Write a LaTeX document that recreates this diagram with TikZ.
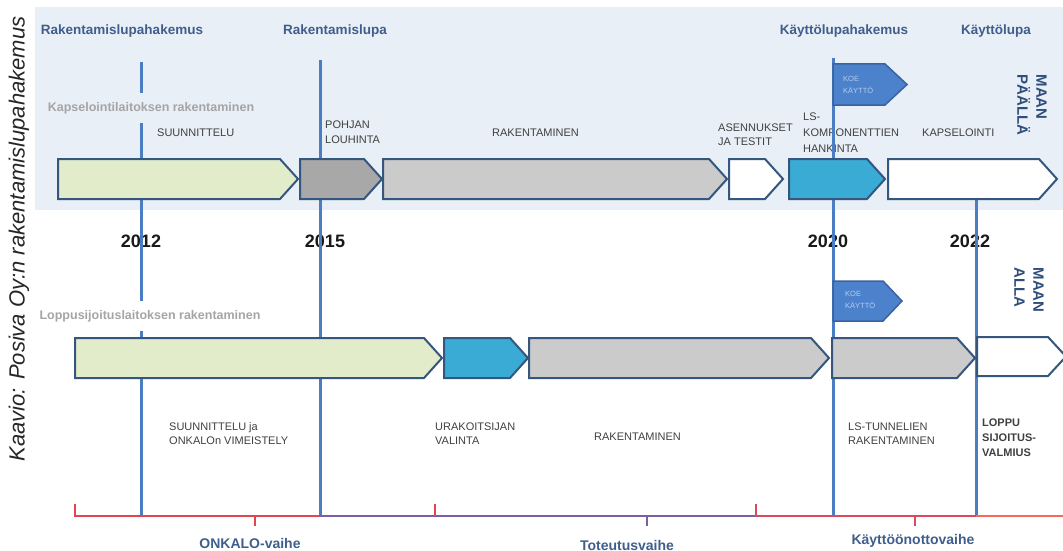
\documentclass[tikz,border=0pt]{standalone}
\usepackage{fontspec}
\setmainfont{Liberation Sans}
\definecolor{band}{HTML}{E8EFF7}
\definecolor{vblue}{HTML}{4A7DC2}
\definecolor{arrowline}{HTML}{34567F}
\definecolor{pgreen}{HTML}{E2ECCB}
\definecolor{pdgray}{HTML}{A8A8A8}
\definecolor{plgray}{HTML}{CBCBCB}
\definecolor{pteal}{HTML}{3AABD4}
\definecolor{flagfill}{HTML}{4C82CC}
\definecolor{flagline}{HTML}{3A62A0}
\definecolor{flagtext}{HTML}{B4CCEE}
\definecolor{lblblue}{HTML}{3F5E8C}
\definecolor{secgray}{HTML}{A5A5A5}
\definecolor{itemgray}{HTML}{404040}
\definecolor{maanblue}{HTML}{2F4F7A}
\definecolor{onkred}{HTML}{E5434F}
\definecolor{totpurple}{HTML}{7B5FA5}
\definecolor{kayred}{HTML}{D94A5C}
\definecolor{salmon}{HTML}{F26B5B}
\newcommand{\phasearrow}[6]{%
  \draw[phase, fill=#6] (#2,#4) -- ({#3-18},#4) -- (#3,{(#4+#5)/2}) -- ({#3-18},#5) -- (#2,#5) -- cycle;
  \node[inner sep=0, minimum width={#3-#2}, minimum height={#5-#4}] (#1) at ({(#2+#3)/2},{(#4+#5)/2}) {};
}
\begin{document}
\begin{tikzpicture}[x=1pt,y=-1pt,
  phase/.style={draw=arrowline, line width=2pt, line join=miter},
  vline/.style={draw=vblue, line width=3pt},
  flagst/.style={draw=flagline, line width=1.5pt, fill=flagfill},
  toplbl/.style={text=lblblue, font=\bfseries\fontsize{13.5}{15}\selectfont, inner sep=0},
  seclbl/.style={text=secgray, font=\bfseries\fontsize{12.5}{14}\selectfont, inner xsep=1pt, inner ysep=9pt},
  item/.style={text=itemgray, font=\fontsize{11}{15}\selectfont, align=left, anchor=west, inner sep=0},
  yearlbl/.style={text=black!90, font=\bfseries\fontsize{18}{20}\selectfont, inner sep=0},
  maan/.style={text=maanblue, font=\bfseries\fontsize{15}{19}\selectfont, align=left, rotate=-90, inner sep=0},
  flagtxt/.style={text=flagtext, font=\fontsize{7.5}{12}\selectfont, align=left, anchor=west, inner sep=0},
  phaselbl/.style={text=lblblue, font=\bfseries\fontsize{14}{16}\selectfont, inner sep=0},
  brk/.style={line width=2pt}
]
\useasboundingbox (0,0) rectangle (1063,551);
\fill[band] (35,7) rectangle (1063,210);

% caption
\node[rotate=90, font=\itshape\fontsize{22}{24}\selectfont, text=black!85, inner sep=0] (caption) at (19,239) {Kaavio: Posiva Oy:n rakentamislupahakemus};

% top labels
\node[toplbl] (l1) at (122,31) {Rakentamislupahakemus};
\node[toplbl] (l2) at (335,31) {Rakentamislupa};
\node[toplbl] (l3) at (844,31) {Käyttölupahakemus};
\node[toplbl] (l4) at (996,31) {Käyttölupa};

% item texts (top)
\node[item] (t1) at (157,133) {SUUNNITTELU};
\node[item] (t2) at (325,132.5) {POHJAN\\LOUHINTA};
\node[item] (t3) at (492,133) {RAKENTAMINEN};
\node[item, font=\fontsize{11}{14}\selectfont] (t4) at (718,135) {ASENNUKSET\\JA TESTIT};
\node[item, font=\fontsize{11}{16}\selectfont] (t5) at (803,133) {LS-\\KOMPONENTTIEN\\HANKINTA};
\node[item] (t6) at (922,133) {KAPSELOINTI};

% item texts (bottom)
\node[item, font=\fontsize{11}{14}\selectfont] (b1) at (169,434) {SUUNNITTELU ja\\ONKALOn VIMEISTELY};
\node[item, font=\fontsize{11}{14}\selectfont] (b2) at (435,434) {URAKOITSIJAN\\VALINTA};
\node[item] (b3) at (594,437) {RAKENTAMINEN};
\node[item, font=\fontsize{11}{14}\selectfont] (b4) at (848,434) {LS-TUNNELIEN\\RAKENTAMINEN};
\node[item, font=\bfseries\fontsize{11}{15}\selectfont] (b5) at (982,438) {LOPPU\\SIJOITUS-\\VALMIUS};

% years (under the lines)
\node[yearlbl] (y1) at (141,241) {2012};
\node[yearlbl] (y2) at (325,241) {2015};
\node[yearlbl] (y3) at (828,241) {2020};
\node[yearlbl] (y4) at (970,241) {2022};

% vertical milestone lines
\coordinate (v1t) at (141,62);  \coordinate (v1b) at (141,516);
\coordinate (v2t) at (320,60);  \coordinate (v2b) at (320,516);
\coordinate (v3t) at (833,58);  \coordinate (v3b) at (833,516);
\coordinate (v4t) at (976,175); \coordinate (v4b) at (976,516);
\draw[vline] (v1t) -- (v1b);
\draw[vline] (v2t) -- (v2b);
\draw[vline] (v3t) -- (v3b);
\draw[vline] (v4t) -- (v4b);

% section labels (cut the line)
\node[seclbl, fill=band] (sec1) at (151,108) {Kapselointilaitoksen rakentaminen};
\node[seclbl, fill=white] (sec2) at (150,316) {Loppusijoituslaitoksen rakentaminen};

% top row
\phasearrow{a1}{58}{298}{159}{199}{pgreen}
\phasearrow{a2}{300}{382}{159}{199}{pdgray}
\phasearrow{a3}{383}{727}{159}{199}{plgray}
\phasearrow{a4}{729}{783}{159}{199}{white}
\phasearrow{a5}{789}{885}{159}{199}{pteal}
\phasearrow{a6}{888}{1057}{159}{199}{white}

% bottom row
\phasearrow{c1}{75}{442}{338}{378}{pgreen}
\phasearrow{c2}{444}{528}{338}{378}{pteal}
\phasearrow{c3}{529}{829}{338}{378}{plgray}
\phasearrow{c4}{832}{975}{338}{378}{plgray}
\phasearrow{c5}{977}{1066}{337}{376}{white}

% flags
\draw[flagst] (v3t |- 0,64) -- (885,64) -- (907,84.5) -- (885,105) -- (v3t |- 0,105) -- cycle;
\node[flagtxt] (f1) at (843,85) {KOE\\KÄYTTÖ};
\draw[flagst] (v3t |- 0,281) -- (883,281) -- (902,301) -- (883,321) -- (v3t |- 0,321) -- cycle;
\node[flagtxt] (f2) at (845,300) {KOE\\KÄYTTÖ};

% maan labels
\node[maan] (m1) at (1032,105) {MAAN\\PÄÄLLÄ};
\node[maan] (m2) at (1029,290) {MAAN\\ALLA};

% phase brackets
\coordinate (p0) at (75,516);   \coordinate (p0u) at (75,504);
\coordinate (p1) at (320,516);
\coordinate (p2) at (435,516);  \coordinate (p2u) at (435,504);
\coordinate (p3) at (756,516);  \coordinate (p3u) at (756,504);
\coordinate (p4) at (976,516);
\coordinate (p5) at (1063,516);
\draw[brk, onkred] (p0u) -- (p0) -- (p1);
\draw[brk, onkred] (255,516) -- (255,526);
\draw[brk, totpurple] (p1) -- (p3);
\draw[brk, totpurple] (647,516) -- (647,526);
\draw[brk, onkred] (p2u) -- (p2);
\draw[brk, kayred] (p3u) -- (p3) -- (p4);
\draw[brk, kayred] (915,516) -- (915,526);
\draw[brk, salmon] (p4) -- (p5);

\node[phaselbl] (ph1) at (250,543) {ONKALO-vaihe};
\node[phaselbl] (ph2) at (627,545) {Toteutusvaihe};
\node[phaselbl] (ph3) at (913,541) {Käyttöönottovaihe};
\end{tikzpicture}
\end{document}
